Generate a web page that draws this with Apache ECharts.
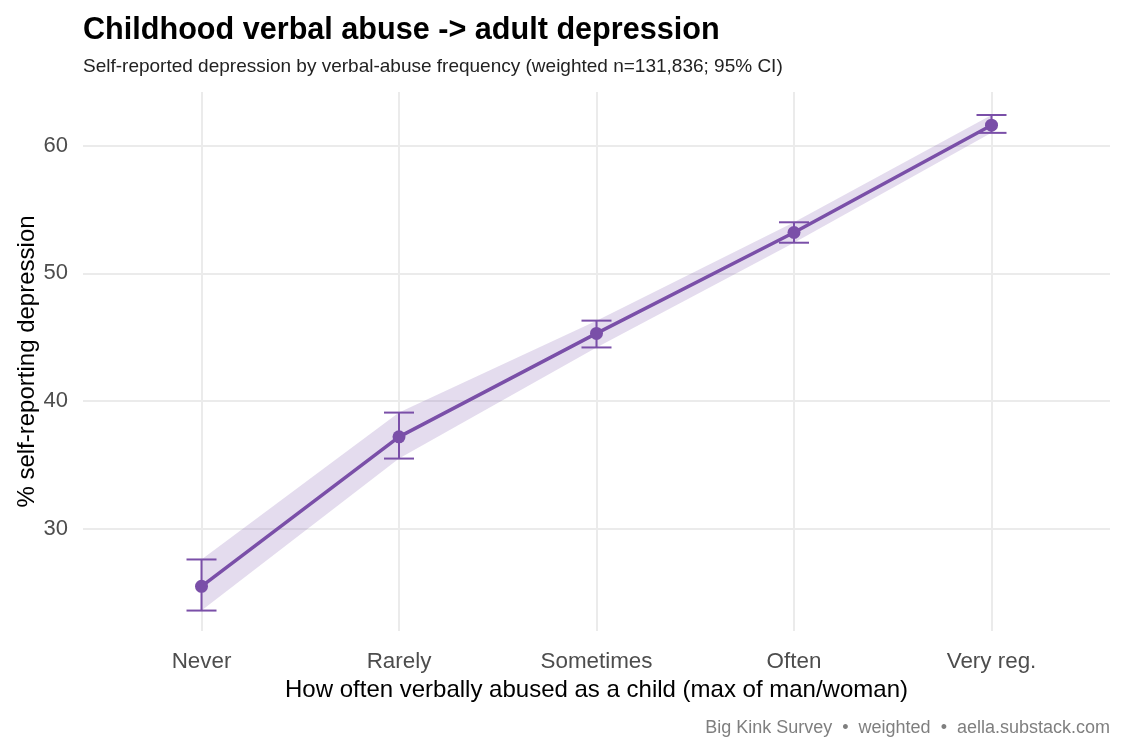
<!DOCTYPE html>
<html>
<head>
<meta charset="utf-8">
<script src="https://cdn.jsdelivr.net/npm/echarts@6/dist/echarts.min.js"></script>
<style>
  html, body { margin: 0; padding: 0; background: #fff; }
  #chart { width: 1125px; height: 750px; }
</style>
</head>
<body>
<div id="chart"></div>
<script>
var categories = ['Never', 'Rarely', 'Sometimes', 'Often', 'Very reg.']
var pct = [25.5, 37.2, 45.3, 53.2, 61.6]
var ciLow = [23.6, 35.5, 44.2, 52.4, 61.0]
var ciHigh = [27.6, 39.1, 46.3, 54.0, 62.4]
var yTicks = [30, 40, 50, 60]

var purple = '#7a4fa8'
var font = 'Liberation Sans, Arial, sans-serif'

var chart = echarts.init(document.getElementById('chart'))

// ticks every 2 (y) / 0.2 (x), only every 5th one gets a visible line
var gridColor = '#ebebeb'
var none = 'rgba(0,0,0,0)'

function isLabelY(v) {
    return yTicks.indexOf(Math.round(v * 100) / 100) >= 0
}

var option = {
    backgroundColor: '#fff',
    animation: false,
    title: [
        {
            text: 'Childhood verbal abuse -> adult depression',
            left: 78, top: 10,
            textStyle: { fontFamily: font, fontSize: 30.6, fontWeight: 'bold', color: '#000' }
        },
        {
            text: 'Self-reported depression by verbal-abuse frequency (weighted n=131,836; 95% CI)',
            left: 78, top: 52,
            textStyle: { fontFamily: font, fontSize: 19, fontWeight: 'normal', color: '#222' }
        },
        {
            text: 'Big Kink Survey  \u2022  weighted  \u2022  aella.substack.com',
            right: 10, top: 714,
            textStyle: { fontFamily: font, fontSize: 18, fontWeight: 'normal', color: '#7f7f7f' }
        }
    ],
    grid: { left: 83, right: 15, top: 92, bottom: 119, containLabel: false },
    xAxis: {
        type: 'value',
        min: 0.4, max: 5.6, interval: 0.2,
        axisLine: { show: false },
        axisTick: { show: false },
        splitLine: { show: true, lineStyle: { width: 2, color: [none, none, none, gridColor, none] } },
        axisLabel: {
            margin: 20,
            fontFamily: font, fontSize: 22.4, color: '#4d4d4d',
            formatter: function (v) {
                var r = Math.round(v)
                if (Math.abs(v - r) > 1e-6) return ''
                return categories[r - 1] || ''
            }
        },
        name: 'How often verbally abused as a child (max of man/woman)',
        nameLocation: 'middle',
        nameGap: 46,
        nameTextStyle: { fontFamily: font, fontSize: 24, color: '#000' }
    },
    yAxis: {
        type: 'value',
        min: 22, max: 64.2, interval: 2,
        axisLine: { show: false },
        axisTick: { show: false },
        splitLine: { show: true, lineStyle: { width: 2, color: [none, none, none, none, gridColor] } },
        axisLabel: {
            margin: 15,
            fontFamily: font, fontSize: 22, color: '#4d4d4d',
            formatter: function (v) { return isLabelY(v) ? String(Math.round(v)) : '' }
        },
        name: '% self-reporting depression',
        nameLocation: 'middle',
        nameMoveOverlap: false,
        nameGap: 44,
        nameTextStyle: { fontFamily: font, fontSize: 24, color: '#000' }
    },
    series: [
        {
            // CI ribbon
            type: 'custom',
            z: 1,
            data: categories.map(function (c, i) { return [i + 1, ciLow[i], ciHigh[i]] }),
            renderItem: function (params, api) {
                if (params.dataIndex !== 0) return null
                var pts = []
                for (var i = 0; i < categories.length; i++) pts.push(api.coord([i + 1, ciHigh[i]]))
                for (var j = categories.length - 1; j >= 0; j--) pts.push(api.coord([j + 1, ciLow[j]]))
                return {
                    type: 'polygon',
                    shape: { points: pts },
                    style: { fill: 'rgba(122,79,168,0.2)', stroke: null }
                }
            },
            silent: true
        },
        {
            // error bars
            type: 'custom',
            z: 3,
            data: categories.map(function (c, i) { return [i + 1, ciLow[i], ciHigh[i]] }),
            renderItem: function (params, api) {
                var lo = api.coord([api.value(0), api.value(1)])
                var hi = api.coord([api.value(0), api.value(2)])
                var w = 15
                var st = { stroke: purple, lineWidth: 2, fill: null }
                return {
                    type: 'group',
                    children: [
                        { type: 'line', shape: { x1: lo[0], y1: lo[1], x2: hi[0], y2: hi[1] }, style: st },
                        { type: 'line', shape: { x1: lo[0] - w, y1: lo[1], x2: lo[0] + w, y2: lo[1] }, style: st },
                        { type: 'line', shape: { x1: hi[0] - w, y1: hi[1], x2: hi[0] + w, y2: hi[1] }, style: st }
                    ]
                }
            },
            silent: true
        },
        {
            type: 'line',
            z: 4,
            data: categories.map(function (c, i) { return [i + 1, pct[i]] }),
            symbol: 'circle',
            symbolSize: 13,
            showAllSymbol: true,
            lineStyle: { color: purple, width: 3.5 },
            itemStyle: { color: purple },
            silent: true
        }
    ]
}

chart.setOption(option)
</script>
</body>
</html>
